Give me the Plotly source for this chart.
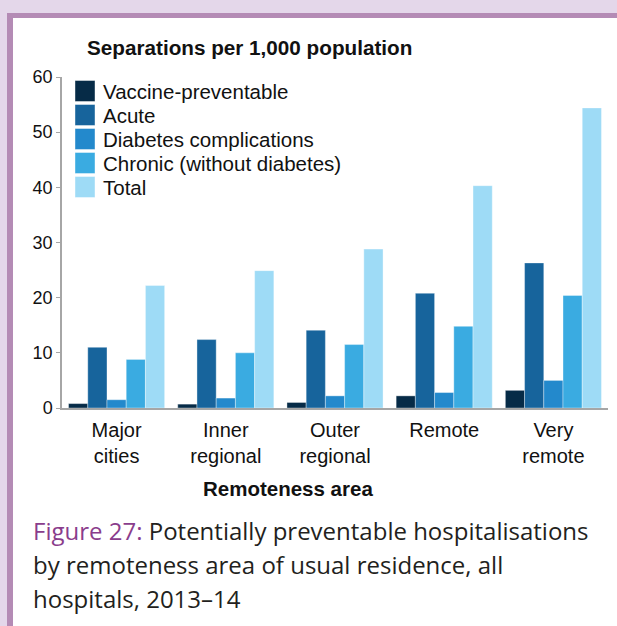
import plotly.graph_objects as go

categories = ["Major<br>cities", "Inner<br>regional", "Outer<br>regional", "Remote", "Very<br>remote"]
series_names = ["Vaccine-preventable", "Acute", "Diabetes complications",
                "Chronic (without diabetes)", "Total"]
vaccine = [0.8, 0.7, 1.0, 2.2, 3.2]
acute = [11.0, 12.4, 14.1, 20.8, 26.3]
diabetes = [1.5, 1.8, 2.2, 2.8, 5.0]
chronic = [8.8, 10.0, 11.5, 14.8, 20.4]
total = [22.2, 24.9, 28.8, 40.3, 54.4]
y_ticks = [0, 10, 20, 30, 40, 50, 60]

colors = ["#062b47", "#17649c", "#2389cc", "#3aabe1", "#9edbf6"]
values = [vaccine, acute, diabetes, chronic, total]

W, H = 617, 626
L, R, T, B = 62, 9, 77, 218
pw, ph = W - L - R, H - T - B


def px(x):
    return (x - L) / pw


def py(y):
    return (H - B - y) / ph


fig = go.Figure()
for name, vals, col in zip(series_names, values, colors):
    fig.add_trace(go.Bar(x=categories, y=vals, name=name, marker_color=col,
                         marker_line_width=0.6, marker_line_color="rgba(255,255,255,0.6)"))

shapes = [
    dict(type="rect", xref="paper", yref="paper", x0=px(7), x1=px(W + 5), y0=py(H + 5), y1=py(13),
         fillcolor="#b48bb5", line_width=0, layer="below"),
    dict(type="rect", xref="paper", yref="paper", x0=px(13), x1=px(W + 5), y0=py(H + 5), y1=py(18),
         fillcolor="white", line_width=0, layer="below"),
]
annotations = []
# legend drawn manually
for i, (name, col) in enumerate(zip(series_names, colors)):
    cy = 91 + i * 24
    shapes.append(dict(type="rect", xref="paper", yref="paper", x0=px(75), x1=px(95),
                       y0=py(cy + 10.5), y1=py(cy - 10.5), fillcolor=col,
                       line=dict(color="rgba(255,255,255,0.7)", width=0.6)))
    annotations.append(dict(text=name, xref="paper", yref="paper", x=px(101), y=py(cy),
                            xanchor="left", yanchor="middle", showarrow=False,
                            font=dict(family="Liberation Sans, Arial", size=20.5, color="#111")))

annotations.append(dict(text="<b>Separations per 1,000 population</b>", xref="paper", yref="paper",
                        x=px(85), y=py(47), xanchor="left", yanchor="middle", showarrow=False,
                        font=dict(family="Liberation Sans, Arial", size=20.7, color="#111")))
annotations.append(dict(text="<b>Remoteness area</b>", xref="paper", yref="paper",
                        x=px(288), y=py(488), xanchor="center", yanchor="middle", showarrow=False,
                        font=dict(family="Liberation Sans, Arial", size=20.5, color="#111")))
cap_lines = ["<span style='color:#8a3d8c'>Figure 27:</span> Potentially preventable hospitalisations",
             "by remoteness area of usual residence, all",
             "hospitals, 2013–14"]
for i, line in enumerate(cap_lines):
    annotations.append(dict(text=line, xref="paper", yref="paper", x=px(31), y=py(530 + i * 34),
                            xanchor="left", yanchor="middle", showarrow=False,
                            font=dict(family="Open Sans", size=24, color="#231f20")))

fig.update_layout(
    width=W, height=H, margin=dict(l=L, r=R, t=T, b=B, pad=0),
    paper_bgcolor="#e4d7ea", plot_bgcolor="white",
    barmode="group", bargap=0.12, bargroupgap=0,
    showlegend=False, shapes=shapes, annotations=annotations,
    font=dict(family="Liberation Sans, Arial", color="#111"),
)
fig.update_xaxes(showline=True, linecolor="#a6a6a6", linewidth=1.5, ticks="",
                 tickfont=dict(size=20, color="#111"), showgrid=False, ticklabelstandoff=3)
fig.update_yaxes(range=[0, 60], tickvals=y_ticks, showline=True, linecolor="#a6a6a6", linewidth=1.5,
                 ticks="outside", ticklen=4, tickcolor="#a6a6a6", showgrid=False, zeroline=False,
                 tickfont=dict(size=18, color="#111"))
fig.write_html("out.html", config={"displayModeBar": False},
               post_script="document.body.style.margin='0';document.body.style.background='#e4d7ea';")
